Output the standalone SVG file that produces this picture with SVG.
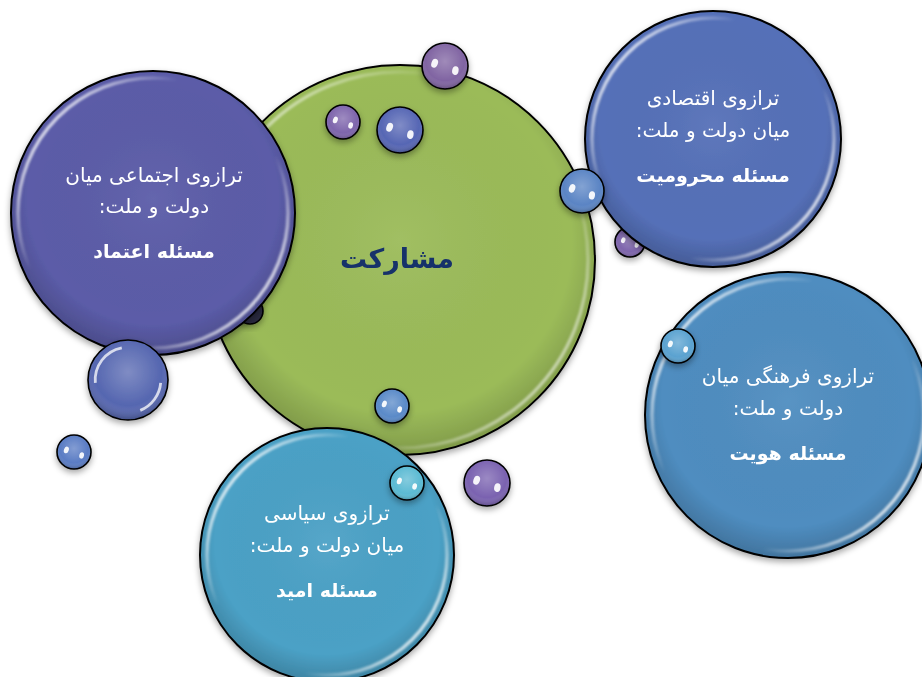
<svg xmlns="http://www.w3.org/2000/svg" xmlns:xlink="http://www.w3.org/1999/xlink" width="922" height="677" viewBox="0 0 922 677">
<defs>
<style>
.outline{fill:none;stroke:#000;stroke-width:2}
.thin{fill:none;stroke:#000;stroke-width:1.6;vector-effect:non-scaling-stroke}
.gloss{fill:none;stroke:url(#glossGrad);stroke-width:3.5;filter:url(#soft)}
.shade{fill:url(#shadeGrad)}
.lbl{font-family:"DejaVu Sans",sans-serif;font-size:20px;fill:#fff;text-anchor:middle;direction:rtl}
.lblb{font-family:"DejaVu Sans",sans-serif;font-size:19px;font-weight:bold;fill:#fff;text-anchor:middle;direction:rtl}
.title{font-family:"DejaVu Sans",sans-serif;font-size:27px;font-weight:bold;fill:#17306b;text-anchor:middle;direction:rtl}
</style>
<radialGradient id="shadeGrad" cx="0.5" cy="0.45" r="0.55">
<stop offset="0" stop-color="#fff" stop-opacity="0.06"/>
<stop offset="0.8" stop-color="#000" stop-opacity="0"/>
<stop offset="1" stop-color="#000" stop-opacity="0.18"/>
</radialGradient>
<radialGradient id="smallGrad" cx="0.5" cy="0.4" r="0.6">
<stop offset="0" stop-color="#fff" stop-opacity="0.25"/>
<stop offset="0.7" stop-color="#fff" stop-opacity="0"/>
<stop offset="1" stop-color="#000" stop-opacity="0.25"/>
</radialGradient>
<linearGradient id="glossGrad" x1="0.05" y1="0.15" x2="0.95" y2="0.85">
<stop offset="0" stop-color="#fff" stop-opacity="0.9"/>
<stop offset="0.3" stop-color="#fff" stop-opacity="0"/>
<stop offset="0.7" stop-color="#fff" stop-opacity="0"/>
<stop offset="1" stop-color="#fff" stop-opacity="0.9"/>
</linearGradient>
<filter id="soft" x="-10%" y="-10%" width="120%" height="120%">
<feGaussianBlur stdDeviation="0.8"/>
</filter>
<filter id="shadow" x="-20%" y="-20%" width="140%" height="150%">
<feDropShadow dx="0" dy="3" stdDeviation="3" flood-color="#000" flood-opacity="0.35"/>
</filter>
<g id="spec">
<ellipse cx="-0.45" cy="-0.12" rx="0.14" ry="0.2" transform="rotate(20 -0.45 -0.12)" fill="#fff" opacity="0.92"/>
<ellipse cx="0.45" cy="0.2" rx="0.14" ry="0.19" transform="rotate(10 0.45 0.2)" fill="#fff" opacity="0.92"/>
</g>
</defs>

<rect width="922" height="677" fill="#fff"/>

<g id="connectors"></g>

<g id="node-center" filter="url(#shadow)">
<circle cx="400" cy="260" r="195" fill="#9BBB59"/>
<circle cx="400" cy="260" r="195" class="shade"/>
<circle cx="400" cy="260" r="188" class="gloss" opacity="0.7"/>
<circle cx="400" cy="260" r="195" class="outline"/>
<text x="397" y="268" class="title">مشارکت</text>
</g>

<g id="bubble-hidden" filter="url(#shadow)">
<g transform="translate(250,311) scale(13)"><circle r="1" fill="#2a2a40"/><circle r="1" class="thin"/></g>
</g>

<g id="bubble-1" filter="url(#shadow)">
<g transform="translate(445,66) scale(23)"><circle r="1" fill="#8064A2"/><circle r="1" fill="url(#smallGrad)"/><use xlink:href="#spec"/><circle r="1" class="thin"/></g>
</g>
<g id="bubble-2" filter="url(#shadow)">
<g transform="translate(630,242) scale(15)"><circle r="1" fill="#7E65AC"/><circle r="1" fill="url(#smallGrad)"/><use xlink:href="#spec"/><circle r="1" class="thin"/></g>
</g>

<g id="node-economic" filter="url(#shadow)">
<circle cx="713" cy="139" r="128" fill="#5570B8"/>
<circle cx="713" cy="139" r="128" class="shade"/>
<circle cx="713" cy="139" r="121" class="gloss"/>
<circle cx="713" cy="139" r="128" class="outline"/>
<text x="713" y="105" class="lbl">ترازوی اقتصادی</text>
<text x="713" y="137" class="lbl">میان دولت و ملت:</text>
<text x="713" y="182" class="lblb">مسئله محرومیت</text>
</g>

<g id="bubble-3" filter="url(#shadow)">
<g transform="translate(582,191) scale(22)"><circle r="1" fill="#5A84C4"/><circle r="1" fill="url(#smallGrad)"/><use xlink:href="#spec"/><circle r="1" class="thin"/></g>
</g>

<g id="node-social" filter="url(#shadow)">
<circle cx="153" cy="213" r="142" fill="#5B5CA8"/>
<circle cx="153" cy="213" r="142" class="shade"/>
<circle cx="153" cy="213" r="135" class="gloss"/>
<circle cx="153" cy="213" r="142" class="outline"/>
<text x="154" y="182" class="lbl">ترازوی اجتماعی میان</text>
<text x="154" y="213" class="lbl">دولت و ملت:</text>
<text x="154" y="258" class="lblb">مسئله اعتماد</text>
</g>

<g id="bubble-4" filter="url(#shadow)">
<g transform="translate(128,380) scale(40)"><circle r="1" fill="#5566B0"/><circle r="1" fill="url(#smallGrad)"/><circle r="0.82" fill="none" stroke="#fff" stroke-opacity="0.75" stroke-width="0.07" stroke-dasharray="1.2 3.95" transform="rotate(175)"/><circle r="0.82" fill="none" stroke="#fff" stroke-opacity="0.75" stroke-width="0.07" stroke-dasharray="0.9 4.25" transform="rotate(5)"/><circle r="1" class="thin"/></g>
</g>
<g id="bubble-5" filter="url(#shadow)">
<g transform="translate(74,452) scale(17)"><circle r="1" fill="#5A7CC4"/><circle r="1" fill="url(#smallGrad)"/><use xlink:href="#spec"/><circle r="1" class="thin"/></g>
</g>
<g id="bubble-6" filter="url(#shadow)">
<g transform="translate(343,122) scale(17)"><circle r="1" fill="#7E65AC"/><circle r="1" fill="url(#smallGrad)"/><use xlink:href="#spec"/><circle r="1" class="thin"/></g>
</g>
<g id="bubble-7" filter="url(#shadow)">
<g transform="translate(400,130) scale(23)"><circle r="1" fill="#5666B4"/><circle r="1" fill="url(#smallGrad)"/><use xlink:href="#spec"/><circle r="1" class="thin"/></g>
</g>
<g id="bubble-8" filter="url(#shadow)">
<g transform="translate(392,406) scale(17)"><circle r="1" fill="#5A8AC8"/><circle r="1" fill="url(#smallGrad)"/><use xlink:href="#spec"/><circle r="1" class="thin"/></g>
</g>

<g id="node-political" filter="url(#shadow)">
<circle cx="327" cy="555" r="127" fill="#4BA1C6"/>
<circle cx="327" cy="555" r="127" class="shade"/>
<circle cx="327" cy="555" r="120" class="gloss"/>
<circle cx="327" cy="555" r="127" class="outline"/>
<text x="327" y="520" class="lbl">ترازوی سیاسی</text>
<text x="327" y="552" class="lbl">میان دولت و ملت:</text>
<text x="327" y="597" class="lblb">مسئله امید</text>
</g>

<g id="bubble-9" filter="url(#shadow)">
<g transform="translate(407,483) scale(17)"><circle r="1" fill="#5BBAD3"/><circle r="1" fill="url(#smallGrad)"/><use xlink:href="#spec"/><circle r="1" class="thin"/></g>
</g>
<g id="bubble-10" filter="url(#shadow)">
<g transform="translate(487,483) scale(23)"><circle r="1" fill="#7A62B0"/><circle r="1" fill="url(#smallGrad)"/><use xlink:href="#spec"/><circle r="1" class="thin"/></g>
</g>

<g id="node-cultural" filter="url(#shadow)">
<circle cx="788" cy="415" r="143" fill="#4F8DC0"/>
<circle cx="788" cy="415" r="143" class="shade"/>
<circle cx="788" cy="415" r="136" class="gloss"/>
<circle cx="788" cy="415" r="143" class="outline"/>
<text x="788" y="383" class="lbl">ترازوی فرهنگی میان</text>
<text x="788" y="415" class="lbl">دولت و ملت:</text>
<text x="788" y="460" class="lblb">مسئله هویت</text>
</g>

<g id="bubble-11" filter="url(#shadow)">
<g transform="translate(678,346) scale(17)"><circle r="1" fill="#5AA2D0"/><circle r="1" fill="url(#smallGrad)"/><use xlink:href="#spec"/><circle r="1" class="thin"/></g>
</g>
</svg>
